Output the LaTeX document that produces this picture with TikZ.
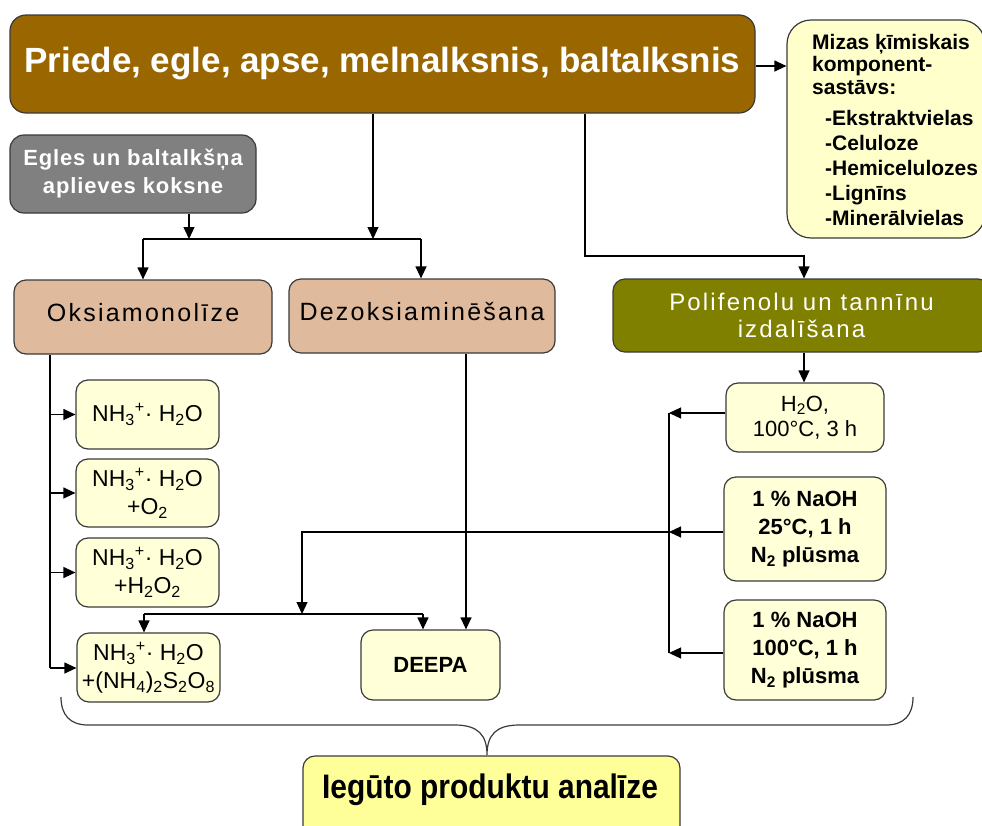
\documentclass[tikz,border=0pt]{standalone}
\usepackage{fontspec}
\setmainfont{Liberation Sans}
\newfontfamily\spfont[LetterSpace=9]{Liberation Sans}
\newfontfamily\egfont[LetterSpace=4]{Liberation Sans}
\newfontfamily\narrowf[FakeStretch=0.88]{Liberation Sans}
\usetikzlibrary{arrows.meta}
\definecolor{brownbox}{HTML}{996600}
\definecolor{graybox}{HTML}{808080}
\definecolor{tanbox}{RGB}{224,186,156}
\definecolor{olivebox}{HTML}{808000}
\definecolor{lightyel}{HTML}{FFFFCC}
\definecolor{smallyel}{HTML}{FFFFD8}
\definecolor{botyel}{HTML}{FFFF99}
\definecolor{linec}{HTML}{3A3A3A}
\newcommand\fsz[2]{\fontsize{#1}{#2}\selectfont}
\tikzset{
  box/.style={draw=linec, line width=1.2pt, rounded corners=12pt, inner sep=0pt, align=center},
  sbox/.style={box, fill=smallyel},
  arr/.style={-{Triangle[width=11pt,length=12pt]}, line width=1.2pt, draw=black},
  ln/.style={line width=1.2pt, draw=black},
  bracel/.style={line width=1.2pt, draw=linec},
}
\begin{document}
\begin{tikzpicture}[x=1pt,y=-1pt]
\useasboundingbox (0,0) rectangle (982,825);

% top boxes
\node[box, fill=brownbox, minimum width=745pt, minimum height=98pt, text=white,
      font=\bfseries\fsz{35}{40}, rounded corners=16pt] (main) at (382.5,64)
      {Priede, egle, apse, melnalksnis, baltalksnis};
\node[box, fill=lightyel, minimum width=198pt, minimum height=218pt, rounded corners=24pt] (miz) at (886,129) {};
\node[align=left, anchor=north west, inner sep=0pt, font=\bfseries\fsz{21}{22.5}] (miztxt) at (812,34)
  {Mizas ķīmiskais\\komponent-\\sastāvs:\\[9pt]
   \hspace*{13pt}-Ekstraktvielas\\[2.5pt]
   \hspace*{13pt}-Celuloze\\[2.5pt]
   \hspace*{13pt}-Hemicelulozes\\[2.5pt]
   \hspace*{13pt}-Lignīns\\[2.5pt]
   \hspace*{13pt}-Minerālvielas};
\node[box, fill=graybox, minimum width=246pt, minimum height=78pt, text=white,
      font=\egfont\bfseries\fsz{22}{28}, rounded corners=14pt] (egl) at (133,174)
      {Egles un baltalkšņa\\aplieves koksne};

% second row
\node[box, fill=tanbox, minimum width=258pt, minimum height=74pt, text depth=9pt,
      font=\spfont\fsz{25}{28}] (oks) at (143,317) {Oksiamonolīze};
\node[box, fill=tanbox, minimum width=266pt, minimum height=74pt, text depth=9pt,
      font=\spfont\fsz{25}{28}] (dez) at (422,316) {Dezoksiaminēšana};
\node[box, fill=olivebox, minimum width=377pt, minimum height=73pt, text=white,
      font=\spfont\fsz{24}{27}] (pol) at (801.5,315.5) {Polifenolu un tannīnu\\izdalīšana};

% right column
\node[sbox, minimum width=158pt, minimum height=69pt, font=\fsz{22}{25}] (h2o) at (805,417.5)
      {H\textsubscript{2}O,\\100°C, 3 h};
\node[sbox, minimum width=162pt, minimum height=104pt, font=\bfseries\fsz{22}{28}] (na1) at (805,529)
      {1 \% NaOH\\25°C, 1 h\\N\textsubscript{2} plūsma};
\node[sbox, minimum width=162pt, minimum height=100pt, font=\bfseries\fsz{22}{28}] (na2) at (805,650)
      {1 \% NaOH\\100°C, 1 h\\N\textsubscript{2} plūsma};

% left column
\node[sbox, minimum width=143pt, minimum height=69pt, font=\fsz{23}{28}] (nh1) at (147.5,414.5)
      {NH\textsubscript{3}\textsuperscript{+}· H\textsubscript{2}O};
\node[sbox, minimum width=143pt, minimum height=68pt, font=\fsz{23}{28}] (nh2) at (147.5,493)
      {NH\textsubscript{3}\textsuperscript{+}· H\textsubscript{2}O\\+O\textsubscript{2}};
\node[sbox, minimum width=143pt, minimum height=69pt, font=\fsz{23}{28}] (nh3) at (147.5,572.5)
      {NH\textsubscript{3}\textsuperscript{+}· H\textsubscript{2}O\\+H\textsubscript{2}O\textsubscript{2}};
\node[sbox, minimum width=143pt, minimum height=69pt, font=\fsz{23}{28}] (nh4) at (148.5,667.5)
      {NH\textsubscript{3}\textsuperscript{+}· H\textsubscript{2}O\\+(NH\textsubscript{4})\textsubscript{2}S\textsubscript{2}O\textsubscript{8}};
\node[sbox, minimum width=139pt, minimum height=70pt, font=\bfseries\fsz{22}{26}] (deepa) at (430.5,665) {DEEPA};

% bottom
\node[box, fill=botyel, minimum width=377pt, minimum height=90pt] (bot) at (491.5,801) {};
\node[inner sep=0pt, font=\narrowf\bfseries\fsz{34}{40}] (bottxt) at (490,790) {Iegūto produktu analīze};

% connectors
\draw[arr] (main.east |- 0,66) -- (miz.west |- 0,66);
\coordinate (j1) at (189,239);
\coordinate (j2) at (373,239);
\draw[arr] (egl.south -| j1) -- (j1);
\draw[arr] (main.south -| j2) -- (j2);
\coordinate (jl) at (143,239);
\coordinate (jr) at (421,239);
\draw[ln] (jl) -- (jr);
\draw[arr] (jl) -- (oks.north -| jl);
\draw[arr] (jr) -- (dez.north -| jr);

\coordinate (r1) at (585,256);
\coordinate (r2) at (804,256);
\draw[arr] (main.south -| r1) -- (r1) -- (r2) -- (pol.north -| r2);
\draw[arr] (pol.south -| r2) -- (h2o.north -| r2);

% right collector
\coordinate (c1) at (669,413);
\coordinate (c2) at (669,532);
\coordinate (c3) at (669,653);
\draw[ln] (c1) -- (c3);
\draw[arr] (h2o.west |- c1) -- (c1);
\draw[arr] (na1.west |- c2) -- (c2);
\draw[arr] (na2.west |- c3) -- (c3);
\coordinate (d1) at (302,532);
\coordinate (d2) at (302,614);
\draw[arr] (c2) -- (d1) -- (d2);
\coordinate (el) at (144,614);
\coordinate (er) at (423,614);
\draw[ln] (el) -- (er);
\draw[arr] (el) -- (nh4.north -| el);
\draw[arr] (er) -- (deepa.north -| er);
\coordinate (dz) at (466,0);
\draw[arr] (dez.south -| dz) -- (deepa.north -| dz);

% left collector
\coordinate (o1) at (50,668);
\draw[ln] (oks.south -| o1) -- (o1);
\draw[arr] (50,0 |- nh1.west) -- (nh1.west);
\draw[arr] (50,0 |- nh2.west) -- (nh2.west);
\draw[arr] (50,0 |- nh3.west) -- (nh3.west);
\draw[arr] (o1) -- (nh4.west |- o1);

% brace
\coordinate (tip) at (487,755);
\draw[bracel] (61,697) .. controls (61,715) and (70,725) .. (88,725) -- (455,725)
  .. controls (478,725) and (487,735) .. (tip)
  .. controls (487,735) and (496,725) .. (519,725) -- (886,725)
  .. controls (904,725) and (913,715) .. (913,697);
\end{tikzpicture}
\end{document}
